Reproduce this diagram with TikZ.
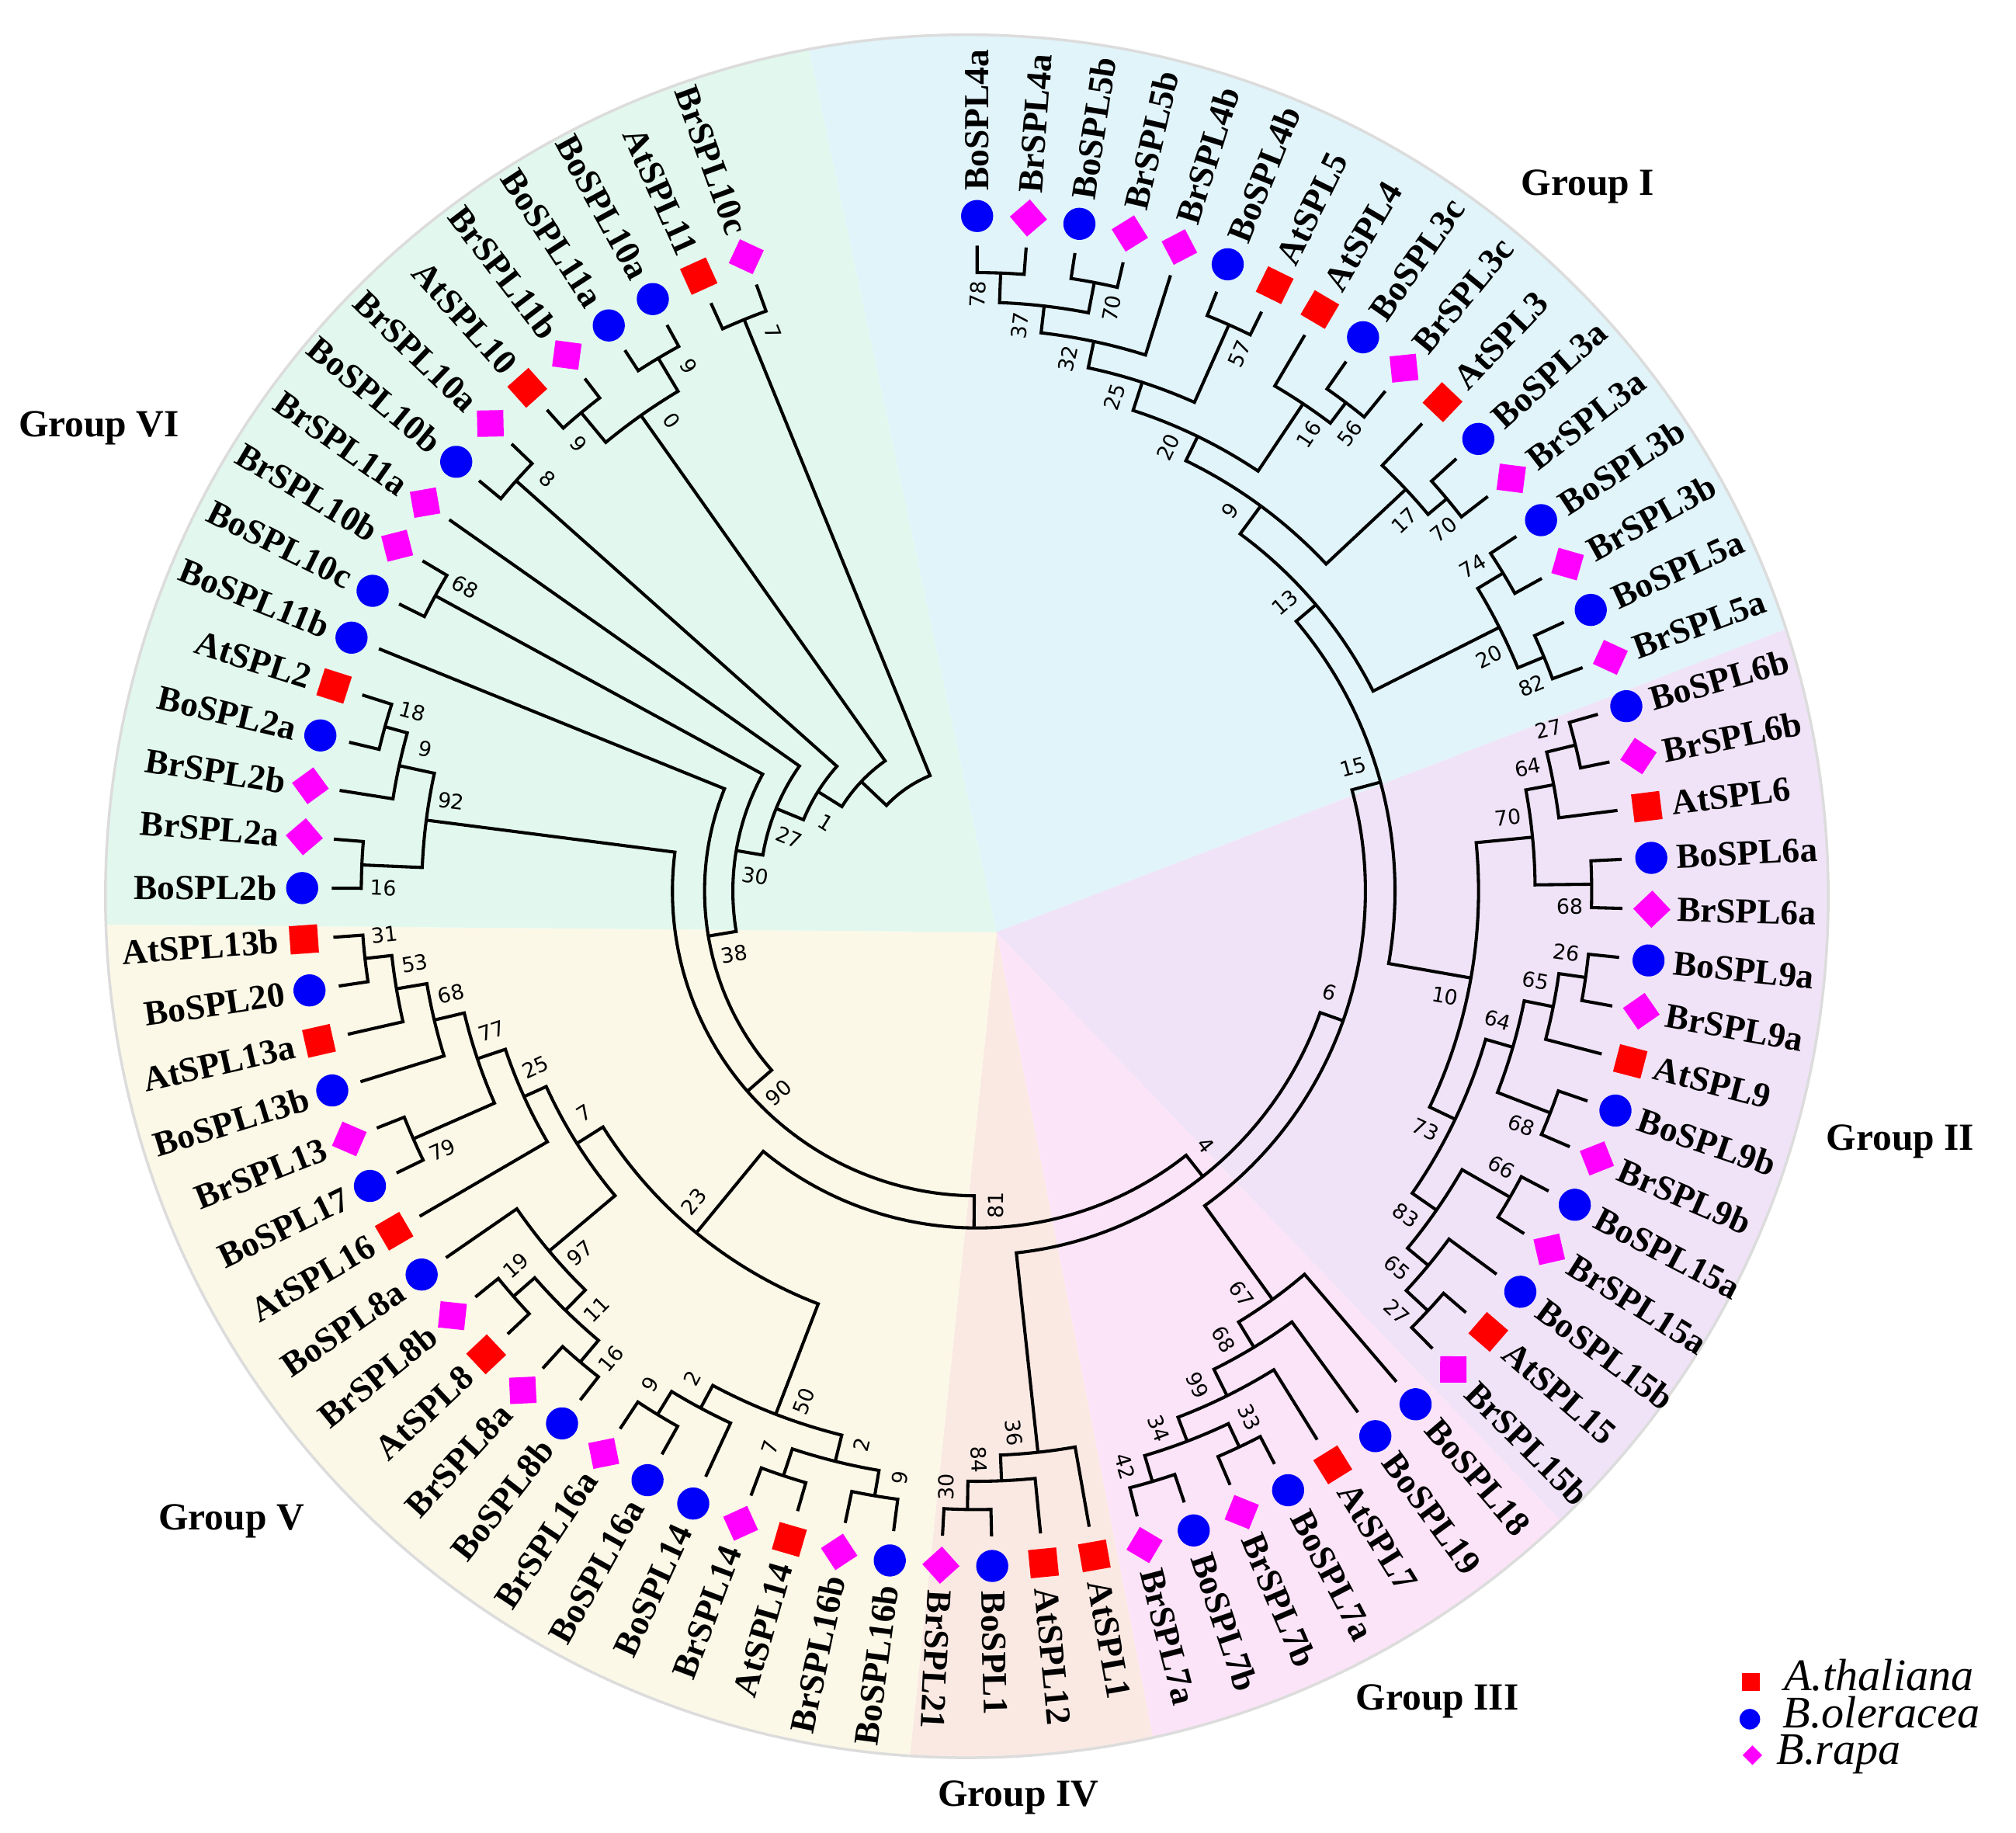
\documentclass[tikz,border=0pt]{standalone}
\usepackage{fontspec}
\setmainfont{Liberation Serif}
\newfontfamily\bsfont{DejaVu Sans}
\definecolor{atred}{HTML}{FF0000}
\definecolor{boblue}{HTML}{0000FA}
\definecolor{brmag}{HTML}{FF00FF}
\definecolor{grpI}{HTML}{E1F4F9}
\definecolor{grpII}{HTML}{F0E3F8}
\definecolor{grpIII}{HTML}{FBE4F7}
\definecolor{grpIV}{HTML}{FAE9E3}
\definecolor{grpV}{HTML}{FBF8E7}
\definecolor{grpVI}{HTML}{E2F8EE}
\definecolor{rimgray}{HTML}{DCDCDC}

\tikzset{
  branch/.style={line width=0.7pt},
  leaflabel/.style={font=\fontsize{7.8}{9}\selectfont\bfseries, inner sep=0pt},
  bslabel/.style={font=\bsfont\fontsize{4.6}{5}\selectfont, inner sep=0pt},
  grouplabel/.style={font=\fontsize{8.5}{10}\selectfont\bfseries, inner sep=0pt},
  legendtext/.style={font=\fontsize{10}{12}\selectfont\itshape, inner sep=0pt, anchor=base west},
  markAt/.style={fill=atred, minimum size=2.2mm, inner sep=0pt},
  markBo/.style={circle, fill=boblue, minimum size=2.5mm, inner sep=0pt},
  markBr/.style={fill=brmag, minimum size=2.05mm, inner sep=0pt, rotate=45}
}

\newcommand{\leaf}[3]{%
  \pgfmathsetmacro{\angL}{90-4.358974*#1}%
  \expandafter\xdef\csname ang#2\endcsname{\angL}%
  \expandafter\xdef\csname rad#2\endcsname{502}%
  \node[mark#3, rotate=\angL] (#2) at (\angL:525) {};%
  \ifnum#1<43
    \node[leaflabel, anchor=west, rotate=\angL] at (\angL:544) {#2};%
  \else
    \node[leaflabel, anchor=east, rotate=\angL+180] at (\angL:544) {#2};%
  \fi
}

\newcommand{\clade}[6]{%
  \edef\angA{\csname ang#3\endcsname}%
  \edef\angB{\csname ang#4\endcsname}%
  \edef\radA{\csname rad#3\endcsname}%
  \edef\radB{\csname rad#4\endcsname}%
  \pgfmathsetmacro{\angM}{(\angA+\angB)/2}%
  \draw[branch] (\angA:\radA) -- (\angA:#2) arc[start angle=\angA, end angle=\angB, radius=#2] -- (\angB:\radB);%
  \expandafter\xdef\csname ang#1\endcsname{\angM}%
  \expandafter\xdef\csname rad#1\endcsname{#2}%
  \coordinate (#1) at (\angM:#2);%
  \ifx&#5&\else
    \pgfmathsetmacro{\labR}{#2-17}%
    \pgfmathsetmacro{\labA}{\angM+(#6)*17/\labR*57.29578}%
    \pgfmathsetmacro{\labT}{ifthenelse(\angM>-90,\angM,\angM+180)}%
    \node[bslabel, rotate=\labT] at (\labA:\labR) {#5};%
  \fi
}

\begin{document}
\begin{tikzpicture}[x=0.1mm, y=0.1mm]
\useasboundingbox (-760,-732) rectangle (808,693);

\begin{scope}
  \clip (-8,-4) circle (670);
  \fill[grpI] (15,-32) -- ++(21:1500) arc[start angle=21, end angle=102, radius=1500] -- cycle;
  \fill[grpII] (15,-32) -- ++(-46.2:1500) arc[start angle=-46.2, end angle=21, radius=1500] -- cycle;
  \fill[grpIII] (15,-32) -- ++(-79:1500) arc[start angle=-79, end angle=-46.2, radius=1500] -- cycle;
  \fill[grpIV] (15,-32) -- ++(-96:1500) arc[start angle=-96, end angle=-79, radius=1500] -- cycle;
  \fill[grpV] (15,-32) -- ++(179.5:1500) arc[start angle=179.5, end angle=264, radius=1500] -- cycle;
  \fill[grpVI] (15,-32) -- ++(102:1500) arc[start angle=102, end angle=179.5, radius=1500] -- cycle;
\end{scope}
\draw[rimgray, line width=0.6pt] (-8,-4) circle (670);

\foreach \nm/\sp [count=\i from 0] in {
  BoSPL4a/Bo, BrSPL4a/Br, BoSPL5b/Bo, BrSPL5b/Br, BrSPL4b/Br, BoSPL4b/Bo, AtSPL5/At, AtSPL4/At,
  BoSPL3c/Bo, BrSPL3c/Br, AtSPL3/At, BoSPL3a/Bo, BrSPL3a/Br, BoSPL3b/Bo, BrSPL3b/Br, BoSPL5a/Bo,
  BrSPL5a/Br, BoSPL6b/Bo, BrSPL6b/Br, AtSPL6/At, BoSPL6a/Bo, BrSPL6a/Br, BoSPL9a/Bo, BrSPL9a/Br,
  AtSPL9/At, BoSPL9b/Bo, BrSPL9b/Br, BoSPL15a/Bo, BrSPL15a/Br, BoSPL15b/Bo, AtSPL15/At, BrSPL15b/Br,
  BoSPL18/Bo, BoSPL19/Bo, AtSPL7/At, BoSPL7a/Bo, BrSPL7b/Br, BoSPL7b/Bo, BrSPL7a/Br, AtSPL1/At,
  AtSPL12/At, BoSPL1/Bo, BrSPL21/Br, BoSPL16b/Bo, BrSPL16b/Br, AtSPL14/At, BrSPL14/Br, BoSPL14/Bo,
  BoSPL16a/Bo, BrSPL16a/Br, BoSPL8b/Bo, BrSPL8a/Br, AtSPL8/At, BrSPL8b/Br, BoSPL8a/Bo, AtSPL16/At,
  BoSPL17/Bo, BrSPL13/Br, BoSPL13b/Bo, AtSPL13a/At, BoSPL20/Bo, AtSPL13b/At, BoSPL2b/Bo, BrSPL2a/Br,
  BrSPL2b/Br, BoSPL2a/Bo, AtSPL2/At, BoSPL11b/Bo, BoSPL10c/Bo, BrSPL10b/Br, BrSPL11a/Br, BoSPL10b/Bo,
  BrSPL10a/Br, AtSPL10/At, BrSPL11b/Br, BoSPL11a/Bo, BoSPL10a/Bo, AtSPL11/At, BrSPL10c/Br}
  {\edef\doleaf{\noexpand\leaf{\i}{\nm}{\sp}}\doleaf}

\clade{nA78}{481}{BoSPL4a}{BrSPL4a}{78}{1}
\clade{nA70}{482}{BoSPL5b}{BrSPL5b}{70}{-1}
\clade{nA37}{458}{nA78}{nA70}{37}{1}
\clade{nA32}{437}{nA37}{BrSPL4b}{32}{1}
\clade{nA57}{482}{BoSPL4b}{AtSPL5}{57}{-1}
\clade{nA25}{416}{nA32}{nA57}{25}{1}
\clade{nA56}{476}{BoSPL3c}{BrSPL3c}{56}{-1}
\clade{nA16}{456}{AtSPL4}{nA56}{16}{-1}
\clade{nA20}{393}{nA25}{nA16}{20}{1}
\clade{nB70}{476}{BoSPL3a}{BrSPL3a}{70}{-1}
\clade{nA17}{457}{AtSPL3}{nB70}{17}{-1}
\clade{nA9}{372}{nA20}{nA17}{9}{1}
\clade{nA74}{478}{BoSPL3b}{BrSPL3b}{74}{1}
\clade{nA82}{477}{BoSPL5a}{BrSPL5a}{82}{-1}
\clade{nB20}{455}{nA74}{nA82}{20}{-1}
\clade{nA13}{345}{nA9}{nB20}{13}{1}

\clade{nC27}{479}{BoSPL6b}{BrSPL6b}{27}{1}
\clade{nC64}{456}{nC27}{AtSPL6}{64}{1}
\clade{nC68}{478}{BoSPL6a}{BrSPL6a}{68}{-1}
\clade{nC70}{434}{nC64}{nC68}{70}{1}
\clade{nC26}{478}{BoSPL9a}{BrSPL9a}{26}{1}
\clade{nC65}{457}{nC26}{AtSPL9}{65}{1}
\clade{nD68}{478}{BoSPL9b}{BrSPL9b}{68}{-1}
\clade{nD64}{434}{nC65}{nD68}{64}{1}
\clade{nC66}{478}{BoSPL15a}{BrSPL15a}{66}{1}
\clade{nD27}{479}{AtSPL15}{BrSPL15b}{27}{-1}
\clade{nD65}{456}{BoSPL15b}{nD27}{65}{-1}
\clade{nC83}{435}{nC66}{nD65}{83}{-1}
\clade{nC73}{412}{nD64}{nC83}{73}{-1}
\clade{nC10}{390}{nC70}{nC73}{10}{-1}
\clade{nA15}{325}{nA13}{nC10}{15}{1}

\clade{nE33}{478}{BoSPL7a}{BrSPL7b}{33}{1}
\clade{nE42}{479}{BoSPL7b}{BrSPL7a}{42}{-1}
\clade{nE34}{458}{nE33}{nE42}{34}{-1}
\clade{nE99}{438}{AtSPL7}{nE34}{99}{-1}
\clade{nE68}{415}{BoSPL19}{nE99}{68}{-1}
\clade{nE67}{392}{BoSPL18}{nE68}{67}{-1}
\clade{nA6}{302}{nA15}{nE67}{6}{1}

\clade{nF30}{481}{BoSPL1}{BrSPL21}{30}{-1}
\clade{nF84}{459}{AtSPL12}{nF30}{84}{-1}
\clade{nF36}{439}{AtSPL1}{nF84}{36}{-1}
\clade{nA4}{283}{nA6}{nF36}{4}{1}

\clade{nG9}{477}{BoSPL16b}{BrSPL16b}{9}{1}
\clade{nG7}{479}{AtSPL14}{BrSPL14}{7}{-1}
\clade{nG2}{457}{nG9}{nG7}{2}{1}
\clade{nH9}{477}{BoSPL16a}{BrSPL16a}{9}{-1}
\clade{nH2}{456}{BoSPL14}{nH9}{2}{-1}
\clade{nG50}{436}{nG2}{nH2}{50}{1}
\clade{nH16}{479}{BoSPL8b}{BrSPL8a}{16}{1}
\clade{nH19}{479}{AtSPL8}{BrSPL8b}{19}{-1}
\clade{nH11}{457}{nH16}{nH19}{11}{1}
\clade{nH97}{435}{nH11}{BoSPL8a}{97}{1}
\clade{nJ31}{479}{BoSPL20}{AtSPL13b}{31}{-1}
\clade{nJ53}{458}{AtSPL13a}{nJ31}{53}{-1}
\clade{nJ68}{434}{BoSPL13b}{nJ53}{68}{-1}
\clade{nJ79}{479}{BoSPL17}{BrSPL13}{79}{1}
\clade{nJ77}{410}{nJ79}{nJ68}{77}{-1}
\clade{nJ25}{387}{AtSPL16}{nJ77}{25}{-1}
\clade{nH7}{368}{nH97}{nJ25}{7}{-1}
\clade{nH23}{344}{nG50}{nH7}{23}{-1}
\clade{nK81}{262}{nA4}{nH23}{81}{1}

\clade{nL18}{478}{BoSPL2a}{AtSPL2}{18}{-1}
\clade{nL9}{460}{BrSPL2b}{nL18}{9}{-1}
\clade{nL16}{479}{BoSPL2b}{BrSPL2a}{16}{1}
\clade{nL92}{432}{nL16}{nL9}{92}{-1}
\clade{nV7}{237}{nK81}{nL92}{90}{1}
\clade{nV6}{212}{nV7}{BoSPL11b}{38}{1}
\clade{nM68}{480}{BoSPL10c}{BrSPL10b}{68}{-1}
\clade{nV5}{190}{nV6}{nM68}{30}{1}
\clade{nV4}{169}{nV5}{BrSPL11a}{27}{1}
\clade{nM8}{480}{BoSPL10b}{BrSPL10a}{8}{-1}
\clade{nV3}{146}{nV4}{nM8}{1}{1}
\clade{nM9b}{483}{AtSPL10}{BrSPL11b}{9}{1}
\clade{nM9a}{483}{BoSPL11a}{BoSPL10a}{9}{-1}
\clade{nM0}{453}{nM9b}{nM9a}{0}{-1}
\clade{nV2}{124}{nV3}{nM0}{}{0}
\clade{nM7}{480}{AtSPL11}{BrSPL10c}{7}{-1}
\clade{nV1}{97}{nV2}{nM7}{}{0}

\node[grouplabel] (gI) at (475,548) {Group I};
\node[grouplabel] (gII) at (718,-195) {Group II};
\node[grouplabel] (gIII) at (358,-630) {Group III};
\node[grouplabel] (gIV) at (32,-705) {Group IV};
\node[grouplabel] (gV) at (-580,-490) {Group V};
\node[grouplabel] (gVI) at (-683,360) {Group VI};

\node[fill=atred, minimum size=1.4mm, inner sep=0pt] (keyAt) at (602,-615) {};
\node[circle, fill=boblue, minimum size=1.6mm, inner sep=0pt] (keyBo) at (601,-644) {};
\node[fill=brmag, minimum size=1.07mm, inner sep=0pt, rotate=45] (keyBr) at (603,-672) {};
\node[legendtext] (txtAt) at (627,-622) {A.thaliana};
\node[legendtext] (txtBo) at (626,-651) {B.oleracea};
\node[legendtext] (txtBr) at (621,-679) {B.rapa};
\end{tikzpicture}
\end{document}
